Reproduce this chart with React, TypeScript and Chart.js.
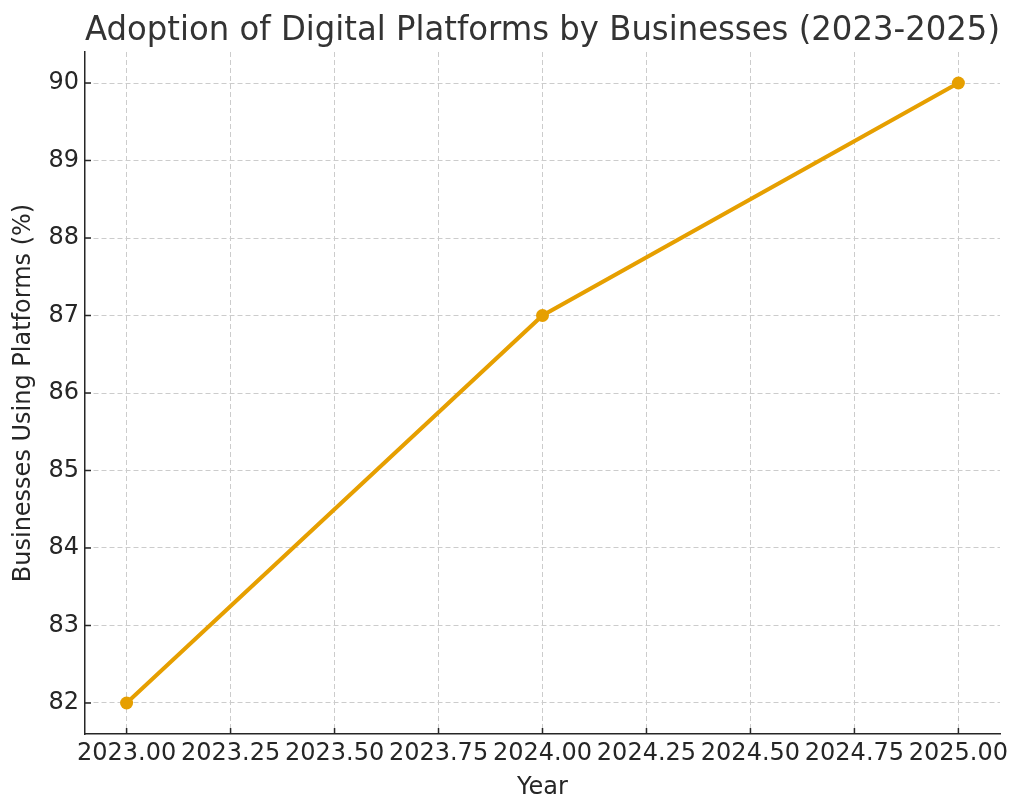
import React, { useEffect, useRef } from "react";
import { Chart, registerables } from "chart.js";

Chart.register(...registerables);

const years = [2023, 2024, 2025];
const adoption = [82, 87, 90];
const xTickValues = [2023, 2023.25, 2023.5, 2023.75, 2024, 2024.25, 2024.5, 2024.75, 2025];
const yTickValues = [82, 83, 84, 85, 86, 87, 88, 89, 90];

const FONT = "'DejaVu Sans', sans-serif";
const TEXT = "#262626";

const innerTicks = {
  id: "innerTicks",
  afterDatasetsDraw(chart: any) {
    const { ctx, chartArea, scales } = chart;
    ctx.save();
    ctx.strokeStyle = TEXT;
    ctx.lineWidth = 1.5;
    ctx.beginPath();
    for (const v of xTickValues) {
      const x = scales.x.getPixelForValue(v);
      ctx.moveTo(x, chartArea.bottom);
      ctx.lineTo(x, chartArea.bottom - 6);
    }
    for (const v of yTickValues) {
      const y = scales.y.getPixelForValue(v);
      ctx.moveTo(chartArea.left, y);
      ctx.lineTo(chartArea.left + 6, y);
    }
    ctx.stroke();
    ctx.restore();
  },
};

export default function App() {
  const ref = useRef<HTMLCanvasElement>(null);
  useEffect(() => {
    if (!ref.current) return;
    const chart = new Chart(ref.current, {
      type: "line",
      data: {
        datasets: [
          {
            label: "Businesses Using Platforms (%)",
            data: years.map((y, i) => ({ x: y, y: adoption[i] })),
            borderColor: "#E69F00",
            backgroundColor: "#E69F00",
            borderWidth: 4,
            pointRadius: 6.5,
            pointHoverRadius: 6.5,
            pointBorderWidth: 0,
            tension: 0,
          },
        ],
      },
      options: {
        animation: false,
        responsive: false,
        layout: { padding: { left: 0, right: 24, top: 0, bottom: 0 } },
        plugins: {
          legend: { display: false },
          tooltip: { enabled: false },
          title: {
            display: true,
            text: "Adoption of Digital Platforms by Businesses (2023-2025)",
            fullSize: false,
            color: "#333333",
            font: { family: FONT, size: 33.5, weight: "normal", lineHeight: 1.0 },
            padding: { top: 15, bottom: 3.5 },
          },
        },
        scales: {
          x: {
            type: "linear",
            min: 2022.9,
            max: 2025.1,
            afterBuildTicks: (s: any) => {
              s.ticks = xTickValues.map((v) => ({ value: v }));
            },
            afterFit: (s: any) => {
              s.height = 78;
            },
            ticks: {
              color: TEXT,
              font: { family: FONT, size: 24 },
              padding: 5,
              maxRotation: 0,
              autoSkip: false,
              callback: (v: any) => Number(v).toFixed(2),
            },
            grid: {
              color: "#cccccc",
              lineWidth: 1,
              drawTicks: false,
            },
            border: { display: true, color: TEXT, width: 1.5, dash: [5, 3] } as any,
            title: {
              display: true,
              text: "Year",
              color: TEXT,
              font: { family: FONT, size: 24 },
              padding: { top: 2, bottom: 10 },
            },
          },
          y: {
            type: "linear",
            min: 81.6,
            max: 90.4,
            afterBuildTicks: (s: any) => {
              s.ticks = yTickValues.map((v) => ({ value: v }));
            },
            afterFit: (s: any) => {
              s.width = 85;
            },
            ticks: {
              color: TEXT,
              font: { family: FONT, size: 24 },
              padding: 6,
              callback: (v: any) => String(v),
            },
            grid: {
              color: "#cccccc",
              lineWidth: 1,
              drawTicks: false,
            },
            border: { display: true, color: TEXT, width: 1.5, dash: [5, 3] } as any,
            title: {
              display: true,
              text: "Businesses Using Platforms (%)",
              color: TEXT,
              font: { family: FONT, size: 24 },
              padding: { top: 9, bottom: 2 },
            },
          },
        },
      },
      plugins: [innerTicks],
    });
    return () => chart.destroy();
  }, []);
  return (
    <div style={{ position: "fixed", left: 0, top: 0, width: 1024, height: 812, background: "#fff" }}>
      <canvas ref={ref} width={1024} height={812} style={{ width: 1024, height: 812 }} />
    </div>
  );
}
